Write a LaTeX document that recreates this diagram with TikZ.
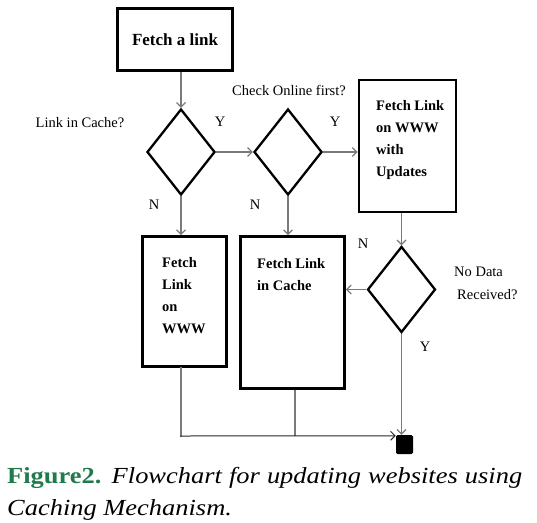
\documentclass[tikz,border=0pt]{standalone}
\usepackage{fontspec}
\setmainfont{Liberation Serif}
\newfontfamily\capfont[FakeStretch=1.15]{Liberation Serif}
\usetikzlibrary{shapes.geometric,arrows.meta}
\definecolor{figgreen}{HTML}{1F7A4C}
\definecolor{wire}{HTML}{7A7A7A}
\begin{document}
\begin{tikzpicture}[x=1pt,y=-1pt,
  box/.style={draw=black,line width=2.8pt,inner sep=0},
  decision/.style={diamond,draw=black,line width=2.3pt,inner sep=0,
    minimum width=68pt,minimum height=86pt},
  flow/.style={draw=wire,line width=1.2pt,-{Straight Barb[length=4.5pt,width=9pt]}},
  plain/.style={draw=wire,line width=1.2pt},
  lbl/.style={font=\fontsize{14.5}{23}\selectfont,inner sep=0},
  boxtxt/.style={font=\fontsize{14.5}{22}\selectfont\bfseries,align=left,
    inner sep=0,anchor=north west},
  captxt/.style={font=\capfont\fontsize{23}{30}\selectfont,inner sep=0,anchor=base west}]
\useasboundingbox (0,0) rectangle (537,522);

% process boxes and decisions
\node[box,minimum width=115pt,minimum height=62pt,
      font=\fontsize{17}{20}\selectfont\bfseries] (fetch) at (175,39.5) {Fetch a link};
\node[decision] (d1) at (181,152) {};
\node[decision] (d2) at (288,152) {};
\node[box,minimum width=97pt,minimum height=132pt] (www2) at (407.5,146) {};
\node[decision] (d3) at (401.5,289.5) {};
\node[box,minimum width=84pt,minimum height=130pt] (www) at (184.5,301.5) {};
\node[box,minimum width=104pt,minimum height=152pt] (cache) at (292.5,312.5) {};
\node[fill=black,minimum width=17pt,minimum height=19pt,inner sep=0,
      rounded corners=1.5pt] (stop) at (404.5,444.5) {};

% texts inside the boxes
\node[boxtxt] (t2) at (376,100) {Fetch Link\\on WWW\\with\\Updates};
\node[boxtxt] (t1) at (162,257) {Fetch\\Link\\on\\WWW};
\node[boxtxt] (t3) at (257,258) {Fetch Link\\in Cache};

% connectors
\draw[flow] (d1 |- fetch.south) -- (d1.north);
\draw[flow] (d1.east) -- (d2.west);
\draw[flow] (d2.east) -- (d2.east -| www2.west);
\draw[flow] (d1.south) -- (www.north -| d1.south);
\draw[flow] (d2.south) -- (cache.north -| d2.south);
\draw[flow] (d3 |- www2.south) -- (d3.north);
\draw[flow] (d3.west) -- (d3.west -| cache.east);
\draw[flow] (d3.south) -- (d3.south |- stop.north);
% merge line into the end point
\coordinate (tee) at (295,436);
\coordinate (corner) at (181,436);
\draw[plain,line cap=rect] (www.south -| corner) -- (corner);
\draw[plain] (cache.south -| tee) -- (tee);
\draw[flow,draw=black!85,line width=1pt,shorten <=-0.6pt] (corner) -- ([yshift=-1pt]stop.north west);

% labels
\node[lbl] (q1) at (80,123) {Link in Cache?};
\node[lbl] (q2) at (289,90) {Check Online first?};
\node[lbl] (y1) at (220,122) {Y};
\node[lbl] (y2) at (335,122) {Y};
\node[lbl] (n1) at (154,205) {N};
\node[lbl] (n2) at (255,205) {N};
\node[lbl] (n3) at (363,244) {N};
\node[lbl,align=left,anchor=west] (q3) at (454,283.5) {No Data\\\hspace*{3pt}Received?};
\node[lbl] (y3) at (425,347) {Y};

% caption
\node[captxt] (cap1) at (7,483) {\makebox[515pt][s]{\textcolor{figgreen}{\bfseries Figure2.} \itshape Flowchart for updating websites using}};
\node[captxt,font=\capfont\fontsize{23}{30}\selectfont\itshape] (cap2) at (7,515) {Caching Mechanism.};
\end{tikzpicture}
\end{document}
